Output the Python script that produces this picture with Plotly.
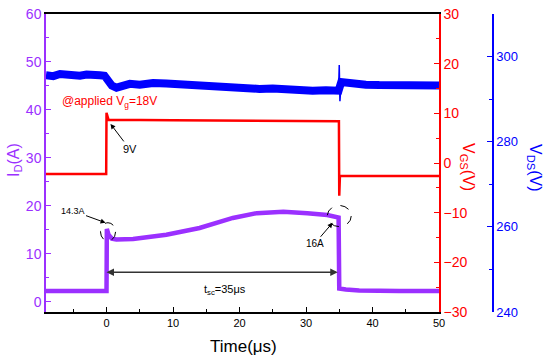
import plotly.graph_objects as go

# ---------------- data ----------------
t_vds = [-9.1, -8, -7, -6, -5, -4, -3, -2, -1, -0.3, 0, 0.8, 1.5, 2.5, 3.5, 5, 7, 9, 11, 13,
         15, 17, 19, 21, 23, 25, 27, 29, 31, 33, 34.9, 35.3, 37, 39, 41, 43, 45, 47, 49, 50]
v_ds = [295.6, 295.4, 295.9, 295.8, 295.4, 295.5, 295.8, 295.9, 295.6, 295.5, 294.8, 293.2, 292.7,
        293.0, 293.6, 293.4, 293.8, 293.7, 293.5, 293.3, 293.2, 292.9, 292.6, 292.8, 292.4, 292.5,
        292.2, 292.3, 292.0, 292.1, 292.0, 294.0, 293.6, 293.4, 293.3, 293.2, 293.1,
        293.3, 293.0, 293.2]
# switching spike on V_DS at turn-off
t_vds_spike = [34.9, 35.0, 35.1, 35.3]
v_ds_spike = [292.0, 298.0, 289.5, 294.0]

t_vgs = [-9.1, -0.05, 0.0, 0.15, 0.3, 10, 20, 30, 34.95, 35.0, 35.1, 35.3, 50]
v_gs = [-2.2, -2.2, 10.1, 9.5, 8.7, 8.6, 8.5, 8.5, 8.4, -6.6, -2.6, -2.6, -2.6]

t_id = [-9.1, -5, -0.05, 0.0, 0.05, 0.3, 0.8, 1.5, 4, 9, 14, 19, 22.6, 26.6, 30.2, 33.2, 34.9,
        35.0, 36, 38, 44, 50]
i_d = [2.3, 2.3, 2.3, 2.3, 15.2, 14.0, 13.2, 13.0, 13.1, 14.0, 15.4, 17.5, 18.5, 18.8, 18.5,
       18.1, 17.6, 2.8, 2.6, 2.4, 2.3, 2.3]

x_ticks = [0, 10, 20, 30, 40, 50]
id_ticks = [0, 10, 20, 30, 40, 50, 60]
vgs_ticks = [-30, -20, -10, 0, 10, 20, 30]
vds_ticks = [240, 260, 280, 300]

PURPLE = "#9B30FF"
RED = "#FF0000"
BLUE = "#0000FF"
FONT = "Liberation Sans, Arial, sans-serif"

# layout geometry
W, H = 550, 359
ML, MR, MT, MB = 46, 57, 14, 47
PW, PH = W - ML - MR, H - MT - MB
PLOT_RIGHT = 439


def px(xp):
    return (xp - ML) / PW


def py(yp):
    return (H - MB - yp) / PH


fig = go.Figure()
fig.add_trace(go.Scatter(x=t_vds, y=v_ds, mode="lines", line=dict(color=BLUE, width=8),
                         yaxis="y3", showlegend=False, hoverinfo="skip"))
fig.add_trace(go.Scatter(x=t_vds_spike, y=v_ds_spike, mode="lines", line=dict(color=BLUE, width=1.5),
                         yaxis="y3", showlegend=False, hoverinfo="skip"))
fig.add_trace(go.Scatter(x=t_vgs, y=v_gs, mode="lines", line=dict(color=RED, width=2.5),
                         yaxis="y2", showlegend=False, hoverinfo="skip"))
fig.add_trace(go.Scatter(x=t_id, y=i_d, mode="lines", line=dict(color=PURPLE, width=4.5),
                         yaxis="y", showlegend=False, hoverinfo="skip"))

# dashed circles
fig.add_shape(type="circle", xref="x", yref="y", x0=0.23 - 1.13, x1=0.23 + 1.13,
              y0=14.6 - 1.9, y1=14.6 + 1.9, line=dict(color="black", width=1, dash="dash"))
fig.add_shape(type="circle", xref="x", yref="y", x0=35.0 - 1.8, x1=35.0 + 1.8,
              y0=17.9 - 2.2, y1=17.9 + 2.2, line=dict(color="black", width=1, dash="dash"))

ann = []
# double arrow t_sc
ann.append(dict(x=0, y=6.2, ax=35, ay=6.2, xref="x", yref="y", axref="x", ayref="y",
                text="", showarrow=True, arrowhead=2, arrowside="end+start", arrowsize=1,
                arrowwidth=1.5, arrowcolor="#333333"))
ann.append(dict(x=17.8, y=2.5, xref="x", yref="y", text="t<sub>sc</sub>=35\u03bcs", showarrow=False,
                xanchor="center", yanchor="middle",
                font=dict(family=FONT, size=11, color="black")))
ann.append(dict(x=0.45, y=41.7, xref="x", yref="y", text="@applied V<sub>g</sub>=18V",
                xanchor="center", yanchor="middle",
                showarrow=False, font=dict(family=FONT, size=12, color=RED)))
ann.append(dict(x=0.6, y=37.1, xref="x", yref="y", text="9V", showarrow=True, arrowhead=2,
                arrowsize=1, arrowwidth=1, arrowcolor="black", ax=19, ay=25,
                font=dict(family=FONT, size=11, color="black")))
ann.append(dict(x=-0.15, y=16.5, xref="x", yref="y", text="14.3A", showarrow=True, arrowhead=2,
                arrowsize=1, arrowwidth=1, arrowcolor="black", ax=-33, ay=-12,
                font=dict(family=FONT, size=9, color="black")))
ann.append(dict(x=34.0, y=16.5, xref="x", yref="y", text="16A", showarrow=True, arrowhead=2,
                arrowsize=1, arrowwidth=1, arrowcolor="black", ax=-18, ay=21,
                font=dict(family=FONT, size=10, color="black")))
# axis titles
ann.append(dict(x=px(14), y=py(160), xref="paper", yref="paper", text="I<sub>D</sub>(A)",
                xanchor="center", yanchor="middle",
                textangle=-90, showarrow=False, font=dict(family=FONT, size=16, color=PURPLE)))
ann.append(dict(x=px(468), y=py(167), xref="paper", yref="paper", text="V<sub>GS</sub>(V)",
                xanchor="center", yanchor="middle",
                textangle=90, showarrow=False, font=dict(family=FONT, size=16, color=RED)))
ann.append(dict(x=px(535), y=py(168), xref="paper", yref="paper", text="V<sub>DS</sub>(V)",
                xanchor="center", yanchor="middle",
                textangle=90, showarrow=False, font=dict(family=FONT, size=16, color=BLUE)))
ann.append(dict(x=px(243), y=py(346), xref="paper", yref="paper", text="Time(\u03bcs)",
                xanchor="center", yanchor="middle",
                showarrow=False, font=dict(family=FONT, size=17, color="black")))

fig.update_layout(
    width=W, height=H,
    margin=dict(l=ML, r=MR, t=MT, b=MB, pad=0, autoexpand=False),
    paper_bgcolor="white", plot_bgcolor="white",
    font=dict(family=FONT),
    annotations=ann,
    xaxis=dict(domain=[0, px(PLOT_RIGHT)], range=[-9.1, 50], tickvals=x_ticks, automargin=False,
               ticks="inside", ticklen=5, tickwidth=1, tickcolor="black",
               showline=True, linecolor="black", linewidth=1.5, mirror=True,
               showgrid=False, zeroline=False,
               tickfont=dict(family=FONT, size=11, color="black"),
               minor=dict(dtick=5, tick0=0, ticks="inside", ticklen=3, tickcolor="black")),
    yaxis=dict(range=[-2.1, 60], tickvals=id_ticks, ticks="inside", ticklen=5, automargin=False,
               tickcolor=PURPLE, showline=True, linecolor=PURPLE, linewidth=1.5,
               showgrid=False, zeroline=False,
               tickfont=dict(family=FONT, size=14, color=PURPLE),
               minor=dict(dtick=5, tick0=0, ticks="inside", ticklen=3, tickcolor=PURPLE)),
    yaxis2=dict(range=[-30, 30], tickvals=vgs_ticks, overlaying="y", side="right", anchor="x",
                ticks="inside", ticklen=5, tickcolor=RED, showline=True, linecolor=RED,
                automargin=False,
                linewidth=1.5, showgrid=False, zeroline=False,
                tickfont=dict(family=FONT, size=14, color=RED),
                minor=dict(dtick=5, tick0=0, ticks="inside", ticklen=3, tickcolor=RED)),
    yaxis3=dict(range=[240, 310], tickvals=vds_ticks, overlaying="y", side="right",
                anchor="free", position=1.0, automargin=False,
                ticks="inside", ticklen=5, tickcolor=BLUE, showline=True, linecolor=BLUE,
                linewidth=1.5, showgrid=False, zeroline=False,
                tickfont=dict(family=FONT, size=13, color=BLUE),
                minor=dict(dtick=10, tick0=0, ticks="inside", ticklen=3, tickcolor=BLUE)),
)

fig.write_html("out.html", config={"displayModeBar": False},
               post_script="document.body.style.margin='0';document.body.style.padding='0';")
